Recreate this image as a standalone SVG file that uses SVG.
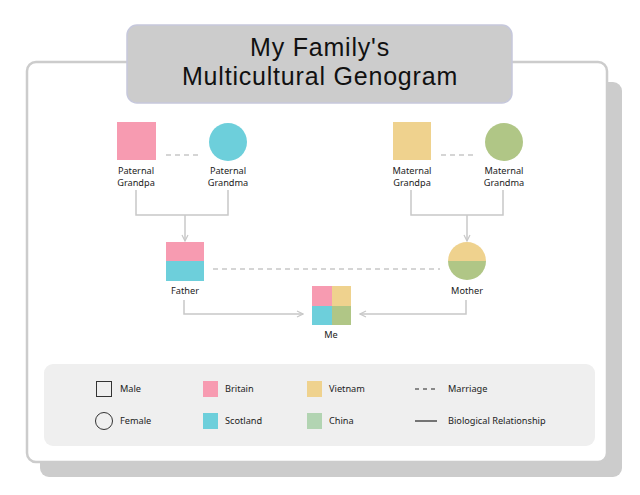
<svg xmlns="http://www.w3.org/2000/svg" width="640" height="495" viewBox="0 0 640 495">
<defs>
<style>
.t{font-family:"Noto Sans","Liberation Sans",sans-serif;font-size:9.2px;fill:#222;text-anchor:middle}
.lg{font-family:"Noto Sans","Liberation Sans",sans-serif;font-size:9.2px;fill:#222}
.ttl{font-family:"Liberation Sans","Noto Sans",sans-serif;font-size:25px;letter-spacing:0.8px;fill:#111;text-anchor:middle}
.con{fill:none;stroke:#c8c8c8;stroke-width:1.5}
.mar{fill:none;stroke:#c8c8c8;stroke-width:1.5;stroke-dasharray:5 4}
</style>
<marker id="arr" markerWidth="8" markerHeight="8" refX="7" refY="4" orient="auto" markerUnits="userSpaceOnUse">
<path d="M1,1 L7,4 L1,7" fill="none" stroke="#c8c8c8" stroke-width="1.2"/>
</marker>
<clipPath id="mclip"><circle cx="467" cy="261" r="19"/></clipPath>
</defs>
<rect width="640" height="495" fill="#fff"/>
<rect x="40" y="82" width="582" height="395" rx="9" fill="#cccccc"/>
<rect x="27" y="62" width="580" height="400" rx="9" fill="#fff" stroke="#cccccc" stroke-width="2.5"/>
<g id="title">
<rect x="127" y="25" width="385" height="78" rx="10" fill="#cccccc" stroke="#c6c8dc" stroke-width="1.5"/>
<text class="ttl" x="320" y="56">My Family's</text>
<text class="ttl" x="320" y="85">Multicultural Genogram</text>
</g>
<g id="connectors">
<line class="mar" x1="166" y1="155" x2="198" y2="155"/>
<line class="mar" x1="441" y1="155" x2="473" y2="155"/>
<line class="mar" x1="213" y1="269" x2="440" y2="269"/>
<path class="con" d="M136,190 V215 H228 V190"/>
<path class="con" d="M185,215 V241" marker-end="url(#arr)"/>
<path class="con" d="M411,190 V215 H503 V190"/>
<path class="con" d="M467,215 V241" marker-end="url(#arr)"/>
<path class="con" d="M184,300 V314 H303" marker-end="url(#arr)"/>
<path class="con" d="M466,300 V314 H360" marker-end="url(#arr)"/>
</g>
<g id="paternal-grandpa">
<rect x="117" y="122" width="39" height="38" fill="#f79bb1"/>
<text class="t" x="136" y="174">Paternal</text>
<text class="t" x="136" y="186">Grandpa</text>
</g>
<g id="paternal-grandma">
<circle cx="228" cy="142" r="19" fill="#6dcfdb"/>
<text class="t" x="228" y="174">Paternal</text>
<text class="t" x="228" y="186">Grandma</text>
</g>
<g id="maternal-grandpa">
<rect x="393" y="122" width="38" height="38" fill="#efd28e"/>
<text class="t" x="412" y="174">Maternal</text>
<text class="t" x="412" y="186">Grandpa</text>
</g>
<g id="maternal-grandma">
<circle cx="504" cy="142" r="19" fill="#b0c686"/>
<text class="t" x="504" y="174">Maternal</text>
<text class="t" x="504" y="186">Grandma</text>
</g>
<g id="father">
<rect x="166" y="242" width="38" height="19" fill="#f79bb1"/>
<rect x="166" y="261" width="38" height="20" fill="#6dcfdb"/>
<text class="t" x="185" y="294">Father</text>
</g>
<g id="mother">
<g clip-path="url(#mclip)">
<rect x="447" y="241" width="40" height="20" fill="#efd28e"/>
<rect x="447" y="261" width="40" height="21" fill="#b0c686"/>
</g>
<text class="t" x="467" y="294">Mother</text>
</g>
<g id="me">
<rect x="312" y="286" width="20" height="20" fill="#f79bb1"/>
<rect x="332" y="286" width="19" height="20" fill="#efd28e"/>
<rect x="312" y="306" width="20" height="19" fill="#6dcfdb"/>
<rect x="332" y="306" width="19" height="19" fill="#b0c686"/>
<text class="t" x="331" y="338">Me</text>
</g>
<g id="legend">
<rect x="44" y="364" width="551" height="82" rx="9" fill="#efefef"/>
<rect x="96.5" y="381.5" width="15" height="15" fill="none" stroke="#333" stroke-width="1"/>
<text class="lg" x="120" y="392">Male</text>
<circle cx="104" cy="421" r="8.5" fill="none" stroke="#333" stroke-width="1"/>
<text class="lg" x="120" y="424">Female</text>
<rect x="203" y="381" width="15" height="16" fill="#f79bb1"/>
<text class="lg" x="225" y="392">Britain</text>
<rect x="203" y="413" width="15" height="16" fill="#6dcfdb"/>
<text class="lg" x="225" y="424">Scotland</text>
<rect x="307" y="381" width="15" height="16" fill="#efd28e"/>
<text class="lg" x="329" y="392">Vietnam</text>
<rect x="307" y="413" width="15" height="16" fill="#b2d4b2"/>
<text class="lg" x="329" y="424">China</text>
<line x1="415" y1="389" x2="437" y2="389" stroke="#222" stroke-width="1.2" stroke-dasharray="4 4"/>
<text class="lg" x="448" y="392">Marriage</text>
<line x1="415" y1="421" x2="437" y2="421" stroke="#222" stroke-width="1.2"/>
<text class="lg" x="448" y="424">Biological Relationship</text>
</g>
</svg>
